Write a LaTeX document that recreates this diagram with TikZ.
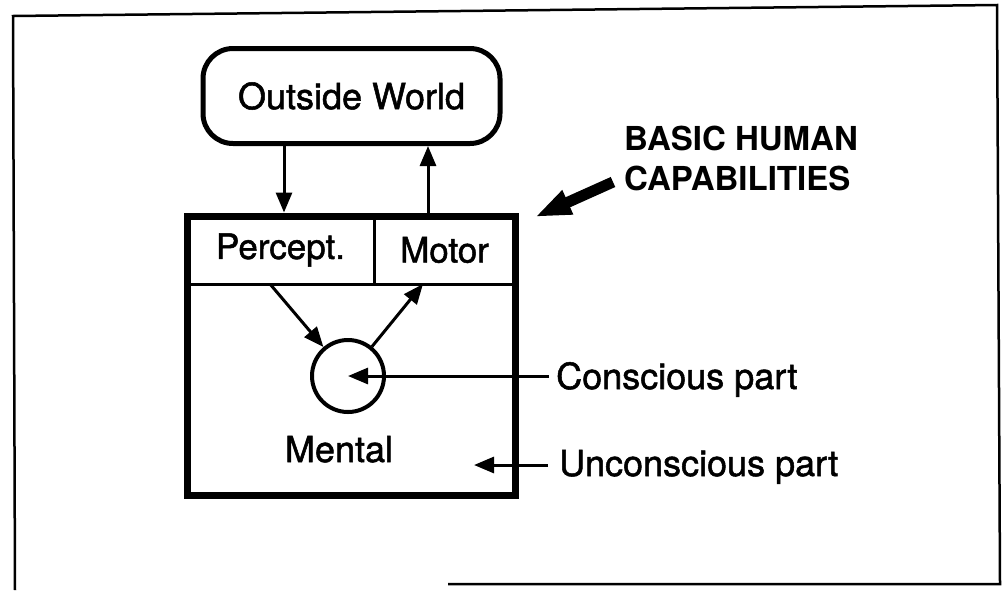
\documentclass[tikz,border=0pt]{standalone}
\usepackage{fontspec}
\setmainfont{TeX Gyre Heros}
\newfontfamily\scanfont{TeX Gyre Heros}[FakeBold=1.4]
\usetikzlibrary{arrows.meta,calc}
\begin{document}
\begin{tikzpicture}[x=1pt,y=-1pt,
  lbl/.style={font=\scanfont\fontsize{36}{40}\selectfont, inner sep=0pt},
  arr/.style={line width=3pt, -{Triangle[length=20pt,width=16pt]}},
  cellbox/.style={draw, line width=3pt, inner sep=0pt, font=\scanfont\fontsize{35}{40}\selectfont},
  bigarr/.style={line width=11pt, -{Triangle[length=36pt,width=24pt]}},
]
\useasboundingbox (0,0) rectangle (1008,590);
% outer frame (scanned, slightly skewed)
\draw[line width=2.5pt, line join=miter] (448,584) -- (1000,584) -- (997,5) -- (13,16) -- (15,590);

% outside world
\node[draw, line width=5pt, rounded corners=30pt, minimum width=297pt, minimum height=95pt, lbl] (ow) at (351.5,96) {Outside World};

% cells
\node[cellbox, minimum width=187pt, minimum height=68pt] (perc) at (280.5,250) {Percept.};
\node[cellbox, minimum width=141pt, minimum height=68pt] (mot) at (444.5,250) {Motor};

% main box
\node[draw, line width=7pt, minimum width=328pt, minimum height=279pt, inner sep=0pt] (main) at (351,355.5) {};

% conscious circle
\node[draw, circle, line width=4pt, minimum size=72pt, inner sep=0pt] (c) at (348,376) {};
\node[lbl, anchor=base] (mental) at (339,462) {Mental};

% labels
\node[lbl, anchor=base west] (cons) at (556,389) {Conscious part};
\node[lbl, anchor=base west] (uncons) at (559,476) {Unconscious part};
\node[font=\fontsize{33}{40}\selectfont\bfseries, align=left, anchor=north west, inner sep=0pt] (cap) at (624,126) {BASIC HUMAN\\CAPABILITIES};

% coordinates for connector ends
\coordinate (dn) at (284,0);
\coordinate (up) at (428,0);
\coordinate (ps) at (270,284);
\coordinate (me) at (423,284);
\coordinate (ut) at (474,465);
\coordinate (bt) at (613,182);
\coordinate (bh) at (535,217);

% connectors
\draw[arr] (ow.south -| dn) -- (main.north -| dn);
\draw[arr] (main.north -| up) -- (ow.south -| up);
\draw[arr] (ps) -- (c);
\draw[arr] (c) -- (me);
\draw[arr] ([xshift=-7pt]c -| cons.west) -- (c.center);
\draw[arr] ([xshift=-11pt]ut -| uncons.west) -- (ut);
\draw[bigarr] (bt) -- (bh);
\end{tikzpicture}
\end{document}
